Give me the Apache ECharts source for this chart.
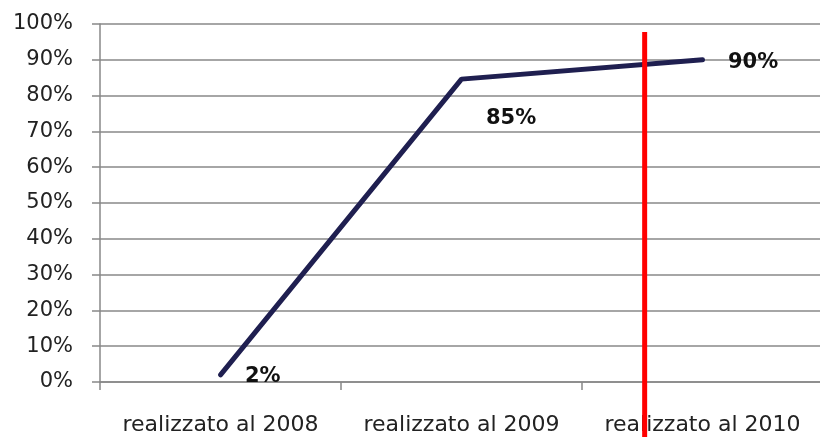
<!DOCTYPE html>
<html><head><meta charset="utf-8">
<script src="https://cdn.jsdelivr.net/npm/echarts@6/dist/echarts.min.js"></script>
<style>html,body{margin:0;padding:0;background:#fff;overflow:hidden;width:820px;height:437px}#c{width:823px;height:437px}</style>
</head><body><div id="c"></div>
<script>
const categories = ['realizzato al 2008', 'realizzato al 2009', 'realizzato al 2010'];
const values = [2, 84.6, 90];
const valueLabels = ['2%', '85%', '90%'];
const yTicks = [0, 10, 20, 30, 40, 50, 60, 70, 80, 90, 100];
const markerX = 2.26;          // position on the category span (0..3)
const markerY = [97.8, -15.5]; // vertical extent in %

const labelOffsets = [[19, 2], [19, 39], [20, 3]];
const font = 'DejaVu Sans';
const chart = echarts.init(document.getElementById('c'));
chart.setOption({
  animation: false,
  grid: { left: 100, right: 0, top: 24, bottom: 55 },
  xAxis: [{
    type: 'category', data: categories, boundaryGap: true,
    axisLine: { lineStyle: { color: '#888', width: 1.5 } },
    axisTick: { show: true, length: 8, lineStyle: { color: '#888', width: 1.5 } },
    axisLabel: { color: '#222', fontSize: 22, fontFamily: font, margin: 32, interval: 0 }
  }, {
    type: 'value', min: 0, max: 3, show: false
  }],
  yAxis: {
    type: 'value', min: 0, max: 100, interval: 10,
    axisLine: { show: true, lineStyle: { color: '#888', width: 1.5 } },
    axisTick: { show: true, length: 8, lineStyle: { color: '#888', width: 1.5 } },
    splitLine: { show: true, lineStyle: { color: '#888', width: 1.5 } },
    axisLabel: { color: '#222', fontSize: 21, fontFamily: font, margin: 27,
      formatter: v => yTicks.includes(v) ? v + '%' : '' }
  },
  series: [{
    type: 'line', xAxisIndex: 0,
    data: values.map((v, i) => ({
      value: v,
      label: { show: true, position: 'right', offset: labelOffsets[i],
        formatter: valueLabels[i], fontSize: 21, fontWeight: 'bold', fontFamily: font, color: '#111' }
    })),
    symbol: 'circle', symbolSize: 1, showSymbol: true,
    itemStyle: { color: '#1f1f50' },
    lineStyle: { color: '#1f1f50', width: 5, cap: 'round' },
    z: 3
  }, {
    type: 'line', xAxisIndex: 1, clip: false, symbol: 'none',
    data: [[markerX, markerY[0]], [markerX, markerY[1]]],
    lineStyle: { color: '#ff0000', width: 5 },
    z: 4
  }]
});
</script></body></html>
